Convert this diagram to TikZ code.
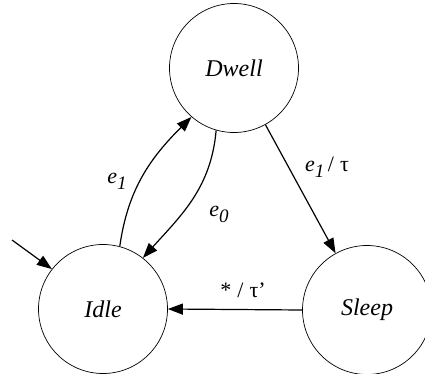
\documentclass[tikz,border=0pt]{standalone}
\usepackage{fontspec}
\setmainfont{Liberation Serif}
\usetikzlibrary{arrows.meta}
\begin{document}
\begin{tikzpicture}[x=1pt,y=1pt,
  state/.style={circle,draw,line width=0.7pt,minimum size=129pt,inner sep=0pt,font=\fontsize{24}{26}\selectfont\itshape},
  trans/.style={line width=1.2pt,-{Triangle[length=15pt,width=11pt]}},
  lbl/.style={font=\fontsize{22}{24}\selectfont\itshape,inner sep=0pt}]
\useasboundingbox (0,0) rectangle (425,-374);
\node[state] (dwell) at (234,-68) {Dwell};
\node[state] (idle) at (103,-309) {Idle};
\node[state] (sleep) at (367,-310) {Sleep};
\coordinate (init) at (12,-240);
\draw[trans] (init) -- (idle.142);
\draw[trans] (idle.75) to[out=82,in=225] (dwell.229);
\draw[trans] (dwell.254) to[out=265,in=48] (idle.52);
\draw[trans] (dwell.299) -- (sleep.119);
\draw[trans] (sleep.180) -- (idle.0);
\node[lbl] (le1) at (117,-181) {e\raisebox{-6pt}{\fontsize{19}{20}\selectfont 1}};
\node[lbl] (le0) at (219,-214) {e\raisebox{-6pt}{\fontsize{19}{20}\selectfont 0}};
\node[lbl] (let) at (327,-167) {e\raisebox{-6pt}{\fontsize{19}{20}\selectfont 1}\,\upshape/\;τ};
\node[lbl] (lst) at (243,-290) {\upshape *\;/\;τ'};
\end{tikzpicture}
\end{document}
